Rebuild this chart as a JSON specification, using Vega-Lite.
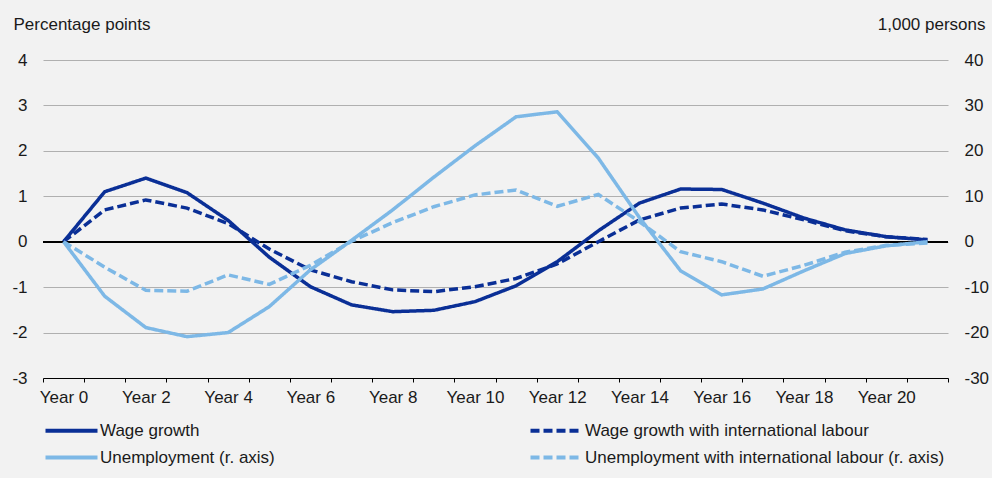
{
  "$schema": "https://vega.github.io/schema/vega-lite/v6.json",
  "width": 905,
  "height": 318,
  "autosize": {"type": "none"},
  "padding": {"left": 43, "top": 60, "right": 44, "bottom": 100},
  "background": "#f2f2f2",
  "config": {
    "view": {"stroke": null},
    "font": "Liberation Sans",
    "axis": {"labelFont": "Liberation Sans", "labelFontSize": 17, "labelColor": "#1a1a1a", "titleFont": "Liberation Sans", "titleFontSize": 17, "titleFontWeight": "normal", "titleColor": "#1a1a1a"},
    "legend": {"labelFont": "Liberation Sans", "labelFontSize": 17, "labelColor": "#1a1a1a"}
  },
  "data": {"values": [
    {"year": "Year 0", "series": "Wage growth", "value": 0},
    {"year": "Year 1", "series": "Wage growth", "value": 1.10},
    {"year": "Year 2", "series": "Wage growth", "value": 1.40},
    {"year": "Year 3", "series": "Wage growth", "value": 1.08},
    {"year": "Year 4", "series": "Wage growth", "value": 0.47},
    {"year": "Year 5", "series": "Wage growth", "value": -0.34},
    {"year": "Year 6", "series": "Wage growth", "value": -0.99},
    {"year": "Year 7", "series": "Wage growth", "value": -1.39},
    {"year": "Year 8", "series": "Wage growth", "value": -1.54},
    {"year": "Year 9", "series": "Wage growth", "value": -1.51},
    {"year": "Year 10", "series": "Wage growth", "value": -1.32},
    {"year": "Year 11", "series": "Wage growth", "value": -0.97},
    {"year": "Year 12", "series": "Wage growth", "value": -0.44},
    {"year": "Year 13", "series": "Wage growth", "value": 0.24},
    {"year": "Year 14", "series": "Wage growth", "value": 0.85},
    {"year": "Year 15", "series": "Wage growth", "value": 1.16},
    {"year": "Year 16", "series": "Wage growth", "value": 1.15},
    {"year": "Year 17", "series": "Wage growth", "value": 0.85},
    {"year": "Year 18", "series": "Wage growth", "value": 0.52},
    {"year": "Year 19", "series": "Wage growth", "value": 0.26},
    {"year": "Year 20", "series": "Wage growth", "value": 0.11},
    {"year": "Year 21", "series": "Wage growth", "value": 0.04},
    {"year": "Year 0", "series": "Wage growth with international labour", "value": 0},
    {"year": "Year 1", "series": "Wage growth with international labour", "value": 0.70},
    {"year": "Year 2", "series": "Wage growth with international labour", "value": 0.92},
    {"year": "Year 3", "series": "Wage growth with international labour", "value": 0.74},
    {"year": "Year 4", "series": "Wage growth with international labour", "value": 0.40},
    {"year": "Year 5", "series": "Wage growth with international labour", "value": -0.16},
    {"year": "Year 6", "series": "Wage growth with international labour", "value": -0.62},
    {"year": "Year 7", "series": "Wage growth with international labour", "value": -0.88},
    {"year": "Year 8", "series": "Wage growth with international labour", "value": -1.06},
    {"year": "Year 9", "series": "Wage growth with international labour", "value": -1.10},
    {"year": "Year 10", "series": "Wage growth with international labour", "value": -0.99},
    {"year": "Year 11", "series": "Wage growth with international labour", "value": -0.81},
    {"year": "Year 12", "series": "Wage growth with international labour", "value": -0.49},
    {"year": "Year 13", "series": "Wage growth with international labour", "value": 0.0},
    {"year": "Year 14", "series": "Wage growth with international labour", "value": 0.48},
    {"year": "Year 15", "series": "Wage growth with international labour", "value": 0.74},
    {"year": "Year 16", "series": "Wage growth with international labour", "value": 0.83},
    {"year": "Year 17", "series": "Wage growth with international labour", "value": 0.70},
    {"year": "Year 18", "series": "Wage growth with international labour", "value": 0.48},
    {"year": "Year 19", "series": "Wage growth with international labour", "value": 0.24},
    {"year": "Year 20", "series": "Wage growth with international labour", "value": 0.11},
    {"year": "Year 21", "series": "Wage growth with international labour", "value": 0.05},
    {"year": "Year 0", "series": "Unemployment (r. axis)", "value": 0},
    {"year": "Year 1", "series": "Unemployment (r. axis)", "value": -12.0},
    {"year": "Year 2", "series": "Unemployment (r. axis)", "value": -18.9},
    {"year": "Year 3", "series": "Unemployment (r. axis)", "value": -20.9},
    {"year": "Year 4", "series": "Unemployment (r. axis)", "value": -20.0},
    {"year": "Year 5", "series": "Unemployment (r. axis)", "value": -14.3},
    {"year": "Year 6", "series": "Unemployment (r. axis)", "value": -6.2},
    {"year": "Year 7", "series": "Unemployment (r. axis)", "value": 0.3},
    {"year": "Year 8", "series": "Unemployment (r. axis)", "value": 7.0},
    {"year": "Year 9", "series": "Unemployment (r. axis)", "value": 14.2},
    {"year": "Year 10", "series": "Unemployment (r. axis)", "value": 21.1},
    {"year": "Year 11", "series": "Unemployment (r. axis)", "value": 27.5},
    {"year": "Year 12", "series": "Unemployment (r. axis)", "value": 28.6},
    {"year": "Year 13", "series": "Unemployment (r. axis)", "value": 18.4},
    {"year": "Year 14", "series": "Unemployment (r. axis)", "value": 5.3},
    {"year": "Year 15", "series": "Unemployment (r. axis)", "value": -6.4},
    {"year": "Year 16", "series": "Unemployment (r. axis)", "value": -11.7},
    {"year": "Year 17", "series": "Unemployment (r. axis)", "value": -10.4},
    {"year": "Year 18", "series": "Unemployment (r. axis)", "value": -6.4},
    {"year": "Year 19", "series": "Unemployment (r. axis)", "value": -2.6},
    {"year": "Year 20", "series": "Unemployment (r. axis)", "value": -0.9},
    {"year": "Year 21", "series": "Unemployment (r. axis)", "value": 0},
    {"year": "Year 0", "series": "Unemployment with international labour (r. axis)", "value": 0},
    {"year": "Year 1", "series": "Unemployment with international labour (r. axis)", "value": -5.6},
    {"year": "Year 2", "series": "Unemployment with international labour (r. axis)", "value": -10.7},
    {"year": "Year 3", "series": "Unemployment with international labour (r. axis)", "value": -10.9},
    {"year": "Year 4", "series": "Unemployment with international labour (r. axis)", "value": -7.3},
    {"year": "Year 5", "series": "Unemployment with international labour (r. axis)", "value": -9.4},
    {"year": "Year 6", "series": "Unemployment with international labour (r. axis)", "value": -5.2},
    {"year": "Year 7", "series": "Unemployment with international labour (r. axis)", "value": 0.1},
    {"year": "Year 8", "series": "Unemployment with international labour (r. axis)", "value": 4.2},
    {"year": "Year 9", "series": "Unemployment with international labour (r. axis)", "value": 7.7},
    {"year": "Year 10", "series": "Unemployment with international labour (r. axis)", "value": 10.3},
    {"year": "Year 11", "series": "Unemployment with international labour (r. axis)", "value": 11.4},
    {"year": "Year 12", "series": "Unemployment with international labour (r. axis)", "value": 7.8},
    {"year": "Year 13", "series": "Unemployment with international labour (r. axis)", "value": 10.4},
    {"year": "Year 14", "series": "Unemployment with international labour (r. axis)", "value": 4.4},
    {"year": "Year 15", "series": "Unemployment with international labour (r. axis)", "value": -2.2},
    {"year": "Year 16", "series": "Unemployment with international labour (r. axis)", "value": -4.4},
    {"year": "Year 17", "series": "Unemployment with international labour (r. axis)", "value": -7.6},
    {"year": "Year 18", "series": "Unemployment with international labour (r. axis)", "value": -5.2},
    {"year": "Year 19", "series": "Unemployment with international labour (r. axis)", "value": -2.3},
    {"year": "Year 20", "series": "Unemployment with international labour (r. axis)", "value": -0.8},
    {"year": "Year 21", "series": "Unemployment with international labour (r. axis)", "value": -0.3}
  ]},
  "encoding": {
    "x": {
      "field": "year", "type": "ordinal", "bandPosition": 0.5,
      "scale": {"type": "band", "paddingInner": 0, "paddingOuter": 0,
        "domain": ["Year 0","Year 1","Year 2","Year 3","Year 4","Year 5","Year 6","Year 7","Year 8","Year 9","Year 10","Year 11","Year 12","Year 13","Year 14","Year 15","Year 16","Year 17","Year 18","Year 19","Year 20","Year 21"]},
      "axis": {"title": null, "labelAngle": 0, "grid": false, "domain": true, "domainColor": "#000000", "domainWidth": 1, "ticks": true, "tickColor": "#000000", "tickSize": 4, "tickBand": "extent", "labelPadding": 7, "labelExpr": "parseInt(substring(datum.value, 5)) % 2 == 0 ? datum.value : ''"}
    },
    "color": {
      "field": "series", "type": "nominal",
      "scale": {"domain": ["Wage growth", "Wage growth with international labour", "Unemployment (r. axis)", "Unemployment with international labour (r. axis)"], "range": ["#0a2f96", "#0a2f96", "#7db8e6", "#7db8e6"]},
      "legend": {"title": null, "orient": "none", "direction": "horizontal", "legendX": 20, "legendY": 362, "columns": 2, "columnPadding": 247, "rowPadding": 9, "symbolType": "M-26,0H26", "symbolSize": 4, "symbolStrokeWidth": 4, "symbolFillColor": "transparent", "labelOffset": 20, "labelLimit": 0}
    },
    "strokeDash": {
      "field": "series", "type": "nominal",
      "scale": {"domain": ["Wage growth", "Wage growth with international labour", "Unemployment (r. axis)", "Unemployment with international labour (r. axis)"], "range": [[1, 0], [9, 4], [1, 0], [9, 4]]},
      "legend": {"title": null, "orient": "none", "direction": "horizontal", "legendX": 20, "legendY": 362, "columns": 2, "columnPadding": 247, "rowPadding": 9, "symbolType": "M-26,0H26", "symbolSize": 4, "symbolStrokeWidth": 4, "symbolFillColor": "transparent", "labelOffset": 20, "labelLimit": 0}
    }
  },
  "layer": [
    {
      "layer": [
        {
          "mark": {"type": "rule", "color": "#000000", "strokeWidth": 1.2},
          "encoding": {"y": {"datum": 0, "type": "quantitative"}, "color": {"value": "#000000"}, "strokeDash": {"value": [1, 0]}, "x": {"value": 0}, "x2": {"value": 905}}
        },
        {
          "transform": [{"filter": "indexof(datum.series, 'Wage') == 0"}],
          "mark": {"type": "line", "strokeWidth": 3.5},
          "encoding": {
            "y": {"field": "value", "type": "quantitative",
              "scale": {"domain": [-3, 4], "nice": false, "zero": false},
              "axis": {"orient": "left", "values": [-3, -2, -1, 0, 1, 2, 3, 4], "labelExpr": "'' + datum.value", "grid": true, "gridColor": "#b0b0b0", "gridWidth": 1, "domain": false, "ticks": false, "tickSize": 0, "labelPadding": 16, "title": "Percentage points", "titleAngle": 0, "titleAlign": "left", "titleBaseline": "alphabetic", "titleX": -30, "titleY": -31}}
          }
        }
      ]
    },
    {
      "transform": [{"filter": "indexof(datum.series, 'Unemployment') == 0"}],
      "mark": {"type": "line", "strokeWidth": 3.5},
      "encoding": {
        "y": {"field": "value", "type": "quantitative",
          "scale": {"domain": [-30, 40], "nice": false, "zero": false},
          "axis": {"orient": "right", "values": [-30, -20, -10, 0, 10, 20, 30, 40], "labelExpr": "'' + datum.value", "grid": false, "domain": false, "ticks": false, "tickSize": 0, "labelPadding": 16, "title": "1,000 persons", "titleAngle": 0, "titleAlign": "right", "titleBaseline": "alphabetic", "titleX": 37, "titleY": -31}}
      }
    }
  ],
  "resolve": {"scale": {"y": "independent"}}
}
